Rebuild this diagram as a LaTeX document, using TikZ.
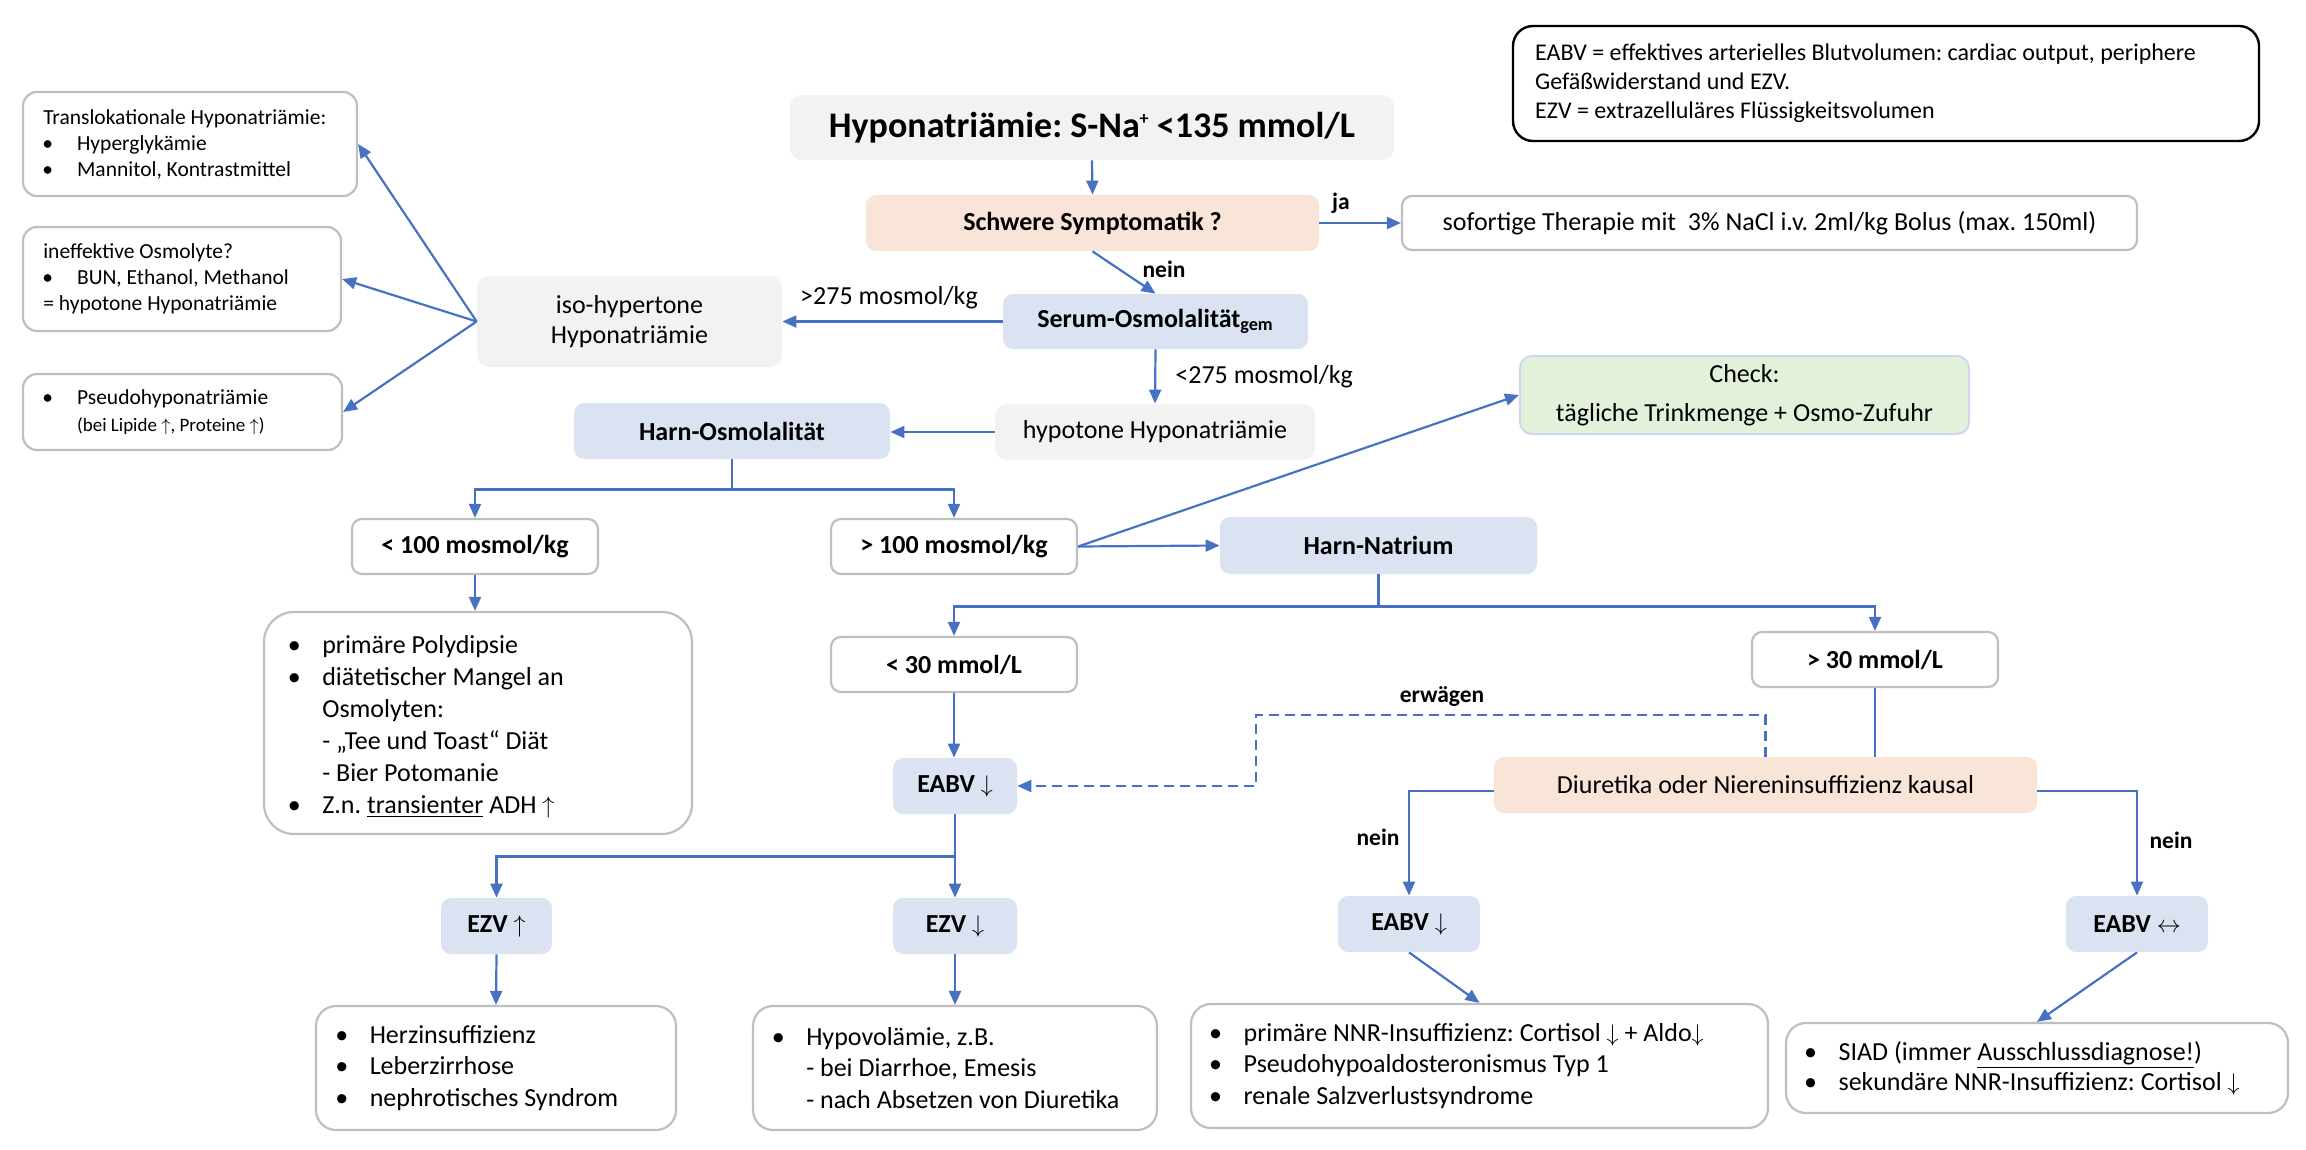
\documentclass[tikz,border=0pt]{standalone}
\usepackage{fontspec}
\setmainfont{Carlito}
\usetikzlibrary{arrows.meta}
\frenchspacing

\definecolor{ablue}{RGB}{71,114,196}
\definecolor{lblue}{RGB}{219,227,243}
\definecolor{peach}{RGB}{249,229,216}
\definecolor{lgray}{RGB}{242,242,242}
\definecolor{lgreen}{RGB}{227,240,218}
\definecolor{bgray}{RGB}{191,191,191}
\definecolor{cborder}{RGB}{205,216,238}

\newcommand\fsTitle{\fontsize{18pt}{21pt}\selectfont}
\newcommand\fsMain{\fontsize{13pt}{16pt}\selectfont}
\newcommand\fsIso{\fontsize{13pt}{15pt}\selectfont}
\newcommand\fsCheck{\fontsize{13pt}{19.5pt}\selectfont}
\newcommand\fsList{\fontsize{13pt}{15.75pt}\selectfont}
\newcommand\fsLab{\fontsize{11.75pt}{14pt}\selectfont}
\newcommand\fsLegend{\fontsize{12pt}{14.5pt}\selectfont}
\newcommand\fsSmall{\fontsize{10.75pt}{13pt}\selectfont}
\newcommand\fsPseudo{\fontsize{10.75pt}{13.5pt}\selectfont}
\newcommand\fsTiny{\fontsize{9.5pt}{13.5pt}\selectfont}

% bullet centred on the line origin, text 14pt further right
\newcommand\bul{\makebox[0pt]{•}\hspace{14pt}}
% bullet for the small side boxes
\newcommand\sbul{\hspace*{2.2pt}\makebox[0pt]{•}\hspace{14.7pt}}
% small raised plus sign of the ion
\newcommand\ionplus{\raisebox{0.75ex}{\fontsize{9pt}{9pt}\selectfont +}}

\begin{document}
\begin{tikzpicture}[x=0.5pt,y=-0.5pt,
  dim/.style 2 args={minimum width=#1*0.5pt, minimum height=#2*0.5pt},
  base/.style={rectangle, inner sep=0pt, text=black, font=\fsMain},
  bluebox/.style={base, fill=lblue, rounded corners=5pt, font=\fsMain\bfseries},
  graybox/.style={base, fill=lgray, rounded corners=6pt},
  peachbox/.style={base, fill=peach, rounded corners=5pt},
  whitebox/.style={base, fill=white, draw=bgray, line width=1.1pt, rounded corners=5pt},
  greenbox/.style={base, fill=lgreen, draw=cborder, line width=1pt, rounded corners=6pt},
  legendbox/.style={base, fill=white, draw=black, line width=1.2pt, rounded corners=10pt},
  ltxt/.style={inner sep=0pt, align=left, anchor=west, text=black, font=\fsList},
  lab/.style={inner sep=0pt, text=black, font=\fsLab\bfseries},
  wire/.style={draw=ablue, line width=1.1pt},
  arr/.style={wire, -{Triangle[length=7pt,width=6pt]}},
]
\useasboundingbox (0,0) rectangle (2306,1150);

% ---------- top row ----------
\node[graybox, dim={604}{65}, font=\fsTitle\bfseries] (title) at (1092,127.5)
  {Hyponatriämie: S-Na\ionplus\ <135 mmol/L};
\node[peachbox, dim={453}{56}, font=\fsMain\bfseries] (schwere) at (1092.5,223)
  {Schwere Symptomatik ?};
\node[whitebox, dim={735}{54}] (sofort) at (1769.5,223)
  {sofortige Therapie mit\ \ 3\% NaCl i.v. 2ml/kg Bolus (max. 150ml)};
\node[legendbox, dim={746}{115}] (legend) at (1886,83.5) {};
\node[ltxt, font=\fsLegend] (legendtxt) at ([xshift=11.5pt]legend.west)
  {EABV = effektives arterielles Blutvolumen: cardiac output, periphere\\
   Gefäßwiderstand und EZV.\\
   EZV = extrazelluläres Flüssigkeitsvolumen};

% ---------- serum osmolality ----------
\node[bluebox, dim={305}{55}] (serum) at (1155.5,321.5) {Serum-Osmolalität\textsubscript{gem}};
\node[graybox, dim={305}{91}, align=center, font=\fsIso] (iso) at (629.5,321.5)
  {iso-hypertone\\Hyponatriämie};
\node[graybox, dim={320}{56}] (hypotone) at (1155,432) {hypotone Hyponatriämie};

% ---------- side boxes ----------
\node[whitebox, rounded corners=7pt, dim={334}{104}] (transl) at (190,144) {};
\node[ltxt, font=\fsSmall] (transltxt) at ([xshift=10.5pt]transl.west)
  {Translokationale Hyponatriämie:\\
   \sbul Hyperglykämie\\
   \sbul Mannitol, Kontrastmittel};
\node[whitebox, rounded corners=7pt, dim={318}{104}] (ineff) at (182,279) {};
\node[ltxt, font=\fsSmall] (inefftxt) at ([xshift=10.5pt]ineff.west)
  {ineffektive Osmolyte?\\
   \sbul BUN, Ethanol, Methanol\\
   = hypotone Hyponatriämie};
\node[whitebox, rounded corners=7pt, dim={319}{76}] (pseudo) at (182.5,412) {};
\node[ltxt, font=\fsPseudo] (pseudotxt) at ([xshift=10.5pt]pseudo.west)
  {\sbul Pseudohyponatriämie\\
   \hspace*{16.9pt}{\fsTiny (bei Lipide $\uparrow$, Proteine $\uparrow$)}};

% ---------- urine osmolality ----------
\node[bluebox, dim={316}{56}] (harnosm) at (732,431) {Harn-Osmolalität};
\node[greenbox, dim={449}{78}, align=center, font=\fsCheck] (check) at (1744.5,395)
  {Check:\\tägliche Trinkmenge + Osmo-Zufuhr};
\node[whitebox, dim={246}{55}, font=\fsMain\bfseries] (lt100) at (475,546.5) {< 100 mosmol/kg};
\node[whitebox, dim={246}{55}, font=\fsMain\bfseries] (gt100) at (954,546.5) {> 100 mosmol/kg};
\node[bluebox, dim={317}{57}] (harnna) at (1378.5,545.5) {Harn-Natrium};

\node[whitebox, rounded corners=15pt, dim={428}{222}] (prim) at (478,723) {};
\node[ltxt, font=\fontsize{13pt}{16pt}\selectfont] (primtxt) at ([xshift=15.5pt,yshift=-2pt]prim.west)
  {\bul primäre Polydipsie\\
   \bul diätetischer Mangel an\\
   \hspace*{14pt}Osmolyten:\\
   \hspace*{14pt}- „Tee und Toast“ Diät\\
   \hspace*{14pt}- Bier Potomanie\\
   \bul Z.n. \underline{transienter} ADH $\uparrow$};

% ---------- urine sodium ----------
\node[whitebox, dim={246}{55}, font=\fsMain\bfseries] (lt30) at (954,664.5) {< 30 mmol/L};
\node[whitebox, dim={246}{55}, font=\fsMain\bfseries] (gt30) at (1875,659.5) {> 30 mmol/L};
\node[bluebox, dim={124}{56}] (eabvA) at (955,786) {EABV $\downarrow$};
\node[peachbox, dim={543}{56}] (diur) at (1765.5,785) {Diuretika oder Niereninsuffizienz kausal};

\node[bluebox, dim={111}{56}] (ezvup) at (496.5,926) {EZV $\uparrow$};
\node[bluebox, dim={124}{56}] (ezvdn) at (955,926) {EZV $\downarrow$};
\node[bluebox, dim={142}{56}] (eabvB) at (1409,924) {EABV $\downarrow$};
\node[bluebox, dim={142}{56}] (eabvC) at (2137,924) {EABV $\leftrightarrow$};

% ---------- bottom result boxes ----------
\node[whitebox, rounded corners=10pt, dim={360}{124}] (herz) at (496,1068) {};
\node[ltxt] (herztxt) at ([xshift=13.25pt]herz.west)
  {\bul Herzinsuffizienz\\
   \bul Leberzirrhose\\
   \bul nephrotisches Syndrom};
\node[whitebox, rounded corners=10pt, dim={404}{124}] (hypov) at (955,1068) {};
\node[ltxt] (hypovtxt) at ([xshift=13pt]hypov.west)
  {\bul Hypovolämie, z.B.\\
   \hspace*{14pt}- bei Diarrhoe, Emesis\\
   \hspace*{14pt}- nach Absetzen von Diuretika};
\node[whitebox, rounded corners=10pt, dim={577}{124}] (nnr) at (1479.5,1066) {};
\node[ltxt] (nnrtxt) at ([xshift=12.7pt]nnr.west)
  {\bul primäre NNR-Insuffizienz: Cortisol $\downarrow$ + Aldo$\downarrow$\\
   \bul Pseudohypoaldosteronismus Typ 1\\
   \bul renale Salzverlustsyndrome};
\node[whitebox, rounded corners=10pt, dim={502}{90}] (siad) at (2037,1068) {};
\node[ltxt, font=\fontsize{13pt}{15pt}\selectfont] (siadtxt) at ([xshift=12.65pt]siad.west)
  {\bul SIAD (immer \underline{Ausschlussdiagnose!})\\
   \bul sekundäre NNR-Insuffizienz: Cortisol $\downarrow$};

% ---------- connector labels ----------
\node[lab] (ja) at (1341,203) {ja};
\node[lab] (neinA) at (1164,269) {nein};
\node[inner sep=0pt, font=\fsMain] (gt275) at (889,298) {>275 mosmol/kg};
\node[inner sep=0pt, font=\fsMain, anchor=west] (lt275) at (1175,377) {<275 mosmol/kg};
\node[lab] (erw) at (1442,697) {erwägen};
\node[lab] (neinB) at (1378,837) {nein};
\node[lab] (neinC) at (2171,840) {nein};

% ---------- connectors ----------
\draw[arr] (title.south) -- (schwere.north);
\draw[arr] (schwere.east) -- (sofort.west);
\draw[arr] (schwere.south) -- (serum.north);
\draw[arr] (serum.west) -- (iso.east);
\draw[arr] (serum.south) -- (hypotone.north);
\draw[arr] (iso.west) -- (transl.east);
\draw[arr] (iso.west) -- (ineff.east);
\draw[arr] (iso.west) -- (pseudo.east);
\draw[arr] (hypotone.west) -- (hypotone.west -| harnosm.east);
\draw[arr] (harnosm.south) -- ++(0,30) -| (lt100.north);
\draw[arr] (harnosm.south) -- ++(0,30) -| (gt100.north);
\draw[arr] (lt100.south) -- (lt100.south |- prim.north);
\draw[arr] (gt100.east) -- (harnna.west);
\draw[arr] (gt100.east) -- (check.west);
\draw[arr] (harnna.south) -- ++(0,32) -| (lt30.north);
\draw[arr] (harnna.south) -- ++(0,32) -| (gt30.north);
\draw[arr] (lt30.south) -- (lt30.south |- eabvA.north);
\draw[wire] (gt30.south) -- (gt30.south |- diur.north);
\coordinate (dashcorner) at (1256,715);
\draw[arr, dash pattern=on 5pt off 3pt] (diur.north) |- (dashcorner)
  -- (dashcorner |- eabvA.east) -- (eabvA.east);
\draw[arr] ([yshift=-3pt]diur.west) -| (eabvB.north);
\draw[arr] ([yshift=-3pt]diur.east) -| (eabvC.north);
\draw[arr] (eabvA.south) -- ++(0,42) -| (ezvup.north);
\draw[arr] (eabvA.south) -- (ezvdn.north);
\draw[arr] (ezvup.south) -- (herz.north);
\draw[arr] (ezvdn.south) -- (hypov.north);
\draw[arr] (eabvB.south) -- (nnr.north);
\draw[arr] (eabvC.south) -- (siad.north);
\end{tikzpicture}
\end{document}
